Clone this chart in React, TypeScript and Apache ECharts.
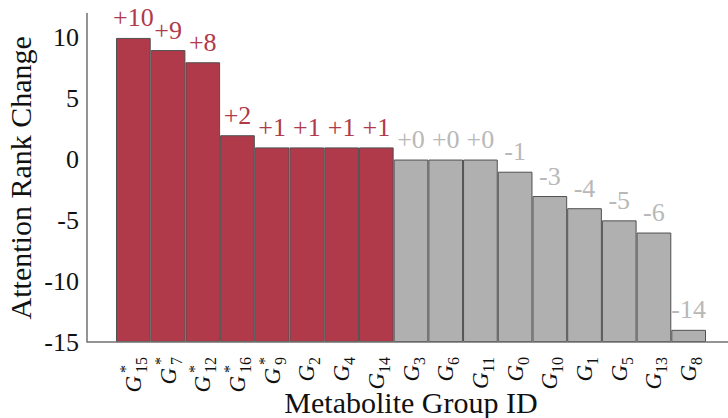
import React, { useEffect, useRef } from "react";
import * as echarts from "echarts";

const groupIds = ["15", "7", "12", "16", "9", "2", "4", "14", "3", "6", "11", "0", "10", "1", "5", "13", "8"];
const starred = [true, true, true, true, true, false, false, false, false, false, false, false, false, false, false, false, false];
const rankChange = [10, 9, 8, 2, 1, 1, 1, 1, 0, 0, 0, -1, -3, -4, -5, -6, -14];
const yMin = -15;
const yMax = 12;
const yStep = 5;

const RED = "#b0394a";
const GRAY = "#b0b0b0";
const LABEL_GRAY = "#b8b8b8";
const FONT = "Liberation Serif";

const categories = groupIds.map((id, i) => `G${id}${starred[i] ? "*" : ""}`);

export default function App() {
  const ref = useRef<HTMLDivElement>(null);
  useEffect(() => {
    if (!ref.current) return;
    const chart = echarts.init(ref.current, undefined, { renderer: "svg" });
    chart.setOption({
      animation: false,
      textStyle: { fontFamily: FONT },
      grid: { left: 116, right: 22, top: 13.6, bottom: 76, outerBoundsMode: "none", containLabel: false },
      graphic: [
        {
          type: "line",
          shape: { x1: 87, y1: 342, x2: 728, y2: 342 },
          style: { stroke: "#707070", lineWidth: 1.5 },
          z: 10,
        },
      ],
      xAxis: {
        type: "category",
        data: categories,
        boundaryGap: true,
        axisLine: { show: false },
        axisTick: { show: false },
        axisLabel: {
          rotate: 90,
          margin: 15,
          interval: 0,
          formatter: (_v: string, idx: number) => {
            const id = groupIds[idx];
            return `{g|G}${starred[idx] ? "{s|*}" : ""}{b|${id}}`;
          },
          rich: {
            g: { fontFamily: FONT, fontStyle: "italic", fontSize: 23, color: "#111", lineHeight: 32, align: "left" },
            s: { fontFamily: FONT, fontSize: 16, color: "#111", verticalAlign: "top", width: 0, align: "left", padding: [0, 0, 0, 3] },
            b: { fontFamily: FONT, fontSize: 16, color: "#111", verticalAlign: "bottom", align: "left" },
          },
        },
        name: "Metabolite Group ID",
        nameLocation: "middle",
        nameGap: 45,
        nameMoveOverlap: false,
        nameTextStyle: { fontFamily: FONT, fontSize: 30, color: "#111" },
      },
      yAxis: {
        type: "value",
        min: yMin,
        max: yMax,
        interval: yStep,
        startValue: yMin,
        offset: 29,
        axisLine: { show: true, lineStyle: { color: "#707070", width: 1.5 } },
        axisTick: { show: false },
        splitLine: { show: false },
        axisLabel: { fontFamily: FONT, fontSize: 26, color: "#111", margin: 8 },
        name: "Attention Rank Change",
        nameLocation: "middle",
        nameGap: 52,
        nameMoveOverlap: false,
        nameTextStyle: { fontFamily: FONT, fontSize: 30, color: "#111" },
      },
      series: [
        {
          type: "bar",
          barWidth: "100%",
          data: rankChange.map((v) => ({
            value: v,
            itemStyle: { color: v > 0 ? RED : GRAY, borderColor: "#505050", borderWidth: 1 },
            label: { color: v > 0 ? RED : LABEL_GRAY },
          })),
          label: {
            show: true,
            position: "top",
            distance: 7,
            fontFamily: FONT,
            fontSize: 26,
            formatter: (p: any) => (p.value >= 0 ? `+${p.value}` : `${p.value}`),
          },
        },
      ],
    });
    return () => chart.dispose();
  }, []);
  return <div ref={ref} style={{ width: 728, height: 418, position: "absolute", left: 0, top: 0 }} />;
}
